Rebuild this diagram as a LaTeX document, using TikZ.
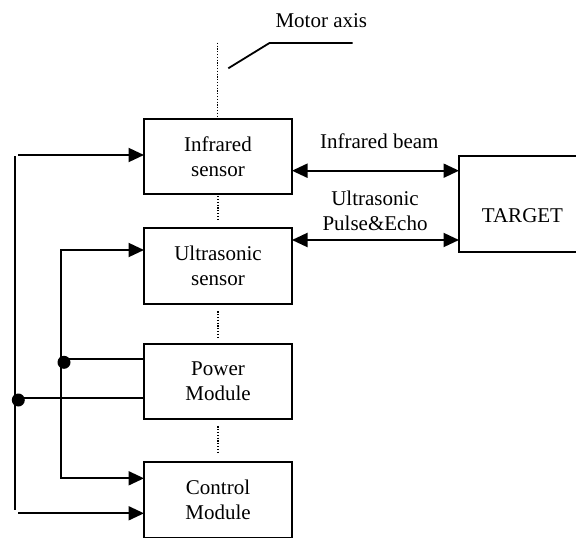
\documentclass[tikz,border=0pt]{standalone}
\usepackage{fontspec}
\setmainfont{Liberation Serif}
\usetikzlibrary{arrows.meta,calc}
\begin{document}
\begin{tikzpicture}[x=1pt,y=-1pt,
  font=\fontsize{21}{25}\selectfont,
  box/.style={draw,line width=2pt,rectangle,minimum width=148pt,inner sep=0pt,outer sep=0pt,align=center},
  wire/.style={line width=2pt},
  tip/.style={-{Triangle[length=15.5pt,width=14pt]}},
  dtip/.style={{Triangle[length=15.5pt,width=14pt]}-{Triangle[length=15.5pt,width=14pt]}},
  axis/.style={line width=1.2pt,dash pattern=on 1.2pt off 1.6pt},
  junction/.style={circle,fill,inner sep=0pt,minimum size=13pt}]
\useasboundingbox (0,0) rectangle (576,538);
% boxes
\node[box,minimum height=75pt] (ir) at (218,156.7) {Infrared\\sensor};
\node[box,minimum height=76pt] (us) at (218,266.3) {Ultrasonic\\sensor};
\node[box,minimum height=75.3pt] (pw) at (218,381.7) {Power\\Module};
\node[box,minimum height=75.5pt] (ct) at (218,500) {Control\\Module};
\node[draw,line width=2pt,rectangle,minimum width=127pt,minimum height=96.6pt,inner sep=0pt,outer sep=0pt] (target) at (522.5,204) {};
\node[anchor=base] (targettext) at (522.5,222) {TARGET};
% motor axis
\node[anchor=base] (motor) at (321.3,27.3) {Motor axis};
\coordinate (axtop) at (217.3,42.7);
\coordinate (lead1) at (228.3,68.3);
\coordinate (lead2) at (269.5,43);
\coordinate (lead3) at (352.7,43);
\draw[line width=1.8pt] (lead1) -- (lead2) -- (lead3);
\draw[axis] (axtop) -- (axtop |- ir.north);
\draw[axis] ($(ir.south)+(0,2)$) -- ($(us.north)+(0,-8)$);
\draw[axis] ($(us.south)+(0,7)$) -- ($(pw.north)+(0,-7)$);
\draw[axis] ($(pw.south)+(0,7)$) -- ($(ct.north)+(0,-9)$);
% beams
\draw[wire,dtip] (ir.east |- 0,170.7) -- (target.west |- 0,170.7);
\draw[wire,dtip] (us.east |- 0,240) -- (target.west |- 0,240);
\node[anchor=base] (irlabel) at (379.3,148) {Infrared beam};
\node[anchor=base,align=center] (uslabel) at (375,230) {Ultrasonic\\Pulse\&Echo};
% left wiring
\coordinate (Ltop) at (15,156);
\coordinate (Lbot) at (15,510);
\coordinate (Lin1) at (18.3,155);
\coordinate (Lin2) at (18.3,513.3);
\coordinate (Mtop) at (60.7,250);
\coordinate (Mbot) at (60.7,478.3);
\draw[wire] (Ltop) -- (Lbot);
\draw[wire,tip] (Lin1) -- (ir.west |- Lin1);
\draw[wire,tip] (Lin2) -- (ct.west |- Lin2);
\draw[wire,dtip] (us.west |- Mtop) -- (Mtop) -- (Mbot) -- (ct.west |- Mbot);
\coordinate (P1) at (60.7,359);
\coordinate (P2) at (15,397.7);
\draw[wire] (P1) -- (pw.west |- P1);
\draw[wire] (P2) -- (pw.west |- P2);
\node[junction] (j1) at (64,362.3) {};
\node[junction] (j2) at (18.3,400) {};
\end{tikzpicture}
\end{document}
